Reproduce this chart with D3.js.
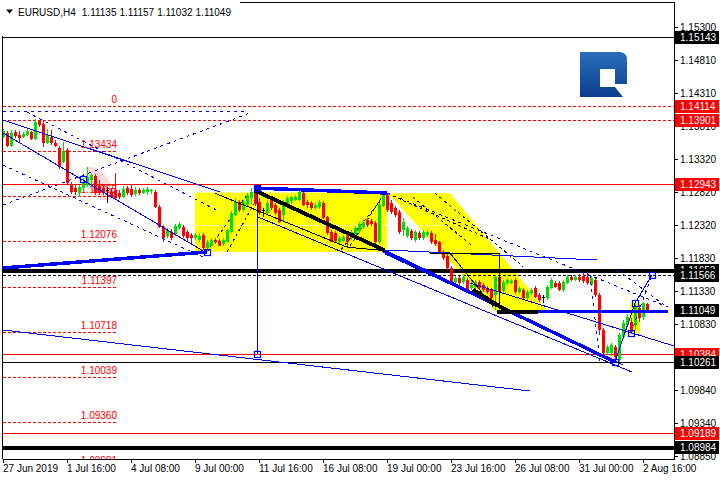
<!DOCTYPE html>
<html><head><meta charset="utf-8">
<script src="https://cdn.jsdelivr.net/npm/d3@7"></script>
<style>html,body{margin:0;padding:0;background:#fff;}svg{display:block;}text{font-family:"Liberation Sans",Arial,sans-serif;white-space:pre;}</style>
</head><body><svg id="c" width="720" height="480"></svg>
<script>
// ---------- DATA ----------
const symbol = "EURUSD,H4";
const open = [
1.1365,1.1371,1.1351,1.1372,1.1368,1.1365,1.1368,1.1372,1.1362,1.1389,
1.1384,1.1356,1.1365,1.1356,1.1348,1.1327,1.1345,1.1294,1.1288,1.1281,
1.1288,1.1293,1.1300,1.1306,1.1291,1.1288,1.1285,1.1282,1.1285,1.1281,
1.1275,1.1288,1.1287,1.1279,1.1285,1.1281,1.1282,1.1283,1.1282,1.1260,
1.1230,1.1216,1.1222,1.1219,1.1228,1.1230,1.1222,1.1218,1.1213,1.1210,
1.1218,1.1198,1.1201,1.1210,1.1209,1.1204,1.1207,1.1222,1.1248,1.1267,
1.1255,1.1263,1.1273,1.1282,1.1267,1.1255,1.1251,1.1270,1.1263,1.1255,
1.1248,1.1264,1.1268,1.1270,1.1270,1.1281,1.1267,1.1266,1.1258,1.1260,
1.1266,1.1245,1.1222,1.1221,1.1207,1.1209,1.1216,1.1213,1.1216,1.1224,
1.1230,1.1240,1.1239,1.1236,1.1206,1.1261,1.1278,1.1266,1.1258,1.1252,
1.1225,1.1216,1.1224,1.1210,1.1221,1.1213,1.1218,1.1221,1.1210,1.1206,
1.1192,1.1185,1.1168,1.1147,1.1153,1.1147,1.1150,1.1138,1.1139,1.1147,
1.1142,1.1138,1.1135,1.1127,1.1154,1.1133,1.1145,1.1145,1.1150,1.1132,
1.1135,1.1123,1.1130,1.1138,1.1127,1.1124,1.1123,1.1138,1.1145,1.1145,
1.1135,1.1145,1.1154,1.1150,1.1154,1.1156,1.1154,1.1142,1.1150,1.1127,
1.1075,1.1040,1.1040,1.1049,1.1030,1.1064,1.1082,1.1087,1.1082,1.1108,
1.1094,1.11135];
const high = [
1.1377,1.1374,1.1375,1.1375,1.1374,1.1372,1.1377,1.1374,1.1392,1.1390,
1.1390,1.1377,1.1375,1.1360,1.1351,1.1357,1.1348,1.1297,1.1293,1.1293,
1.1303,1.1320,1.1311,1.1309,1.1300,1.1293,1.1290,1.1288,1.1311,1.1285,
1.1291,1.1291,1.1293,1.1290,1.1288,1.1288,1.1289,1.1287,1.1285,1.1263,
1.1233,1.1228,1.1227,1.1234,1.1237,1.1233,1.1225,1.1221,1.1221,1.1221,
1.1221,1.1210,1.1213,1.1213,1.1212,1.1213,1.1227,1.1254,1.1273,1.1270,
1.1270,1.1281,1.1288,1.1288,1.1273,1.1258,1.1270,1.1275,1.1266,1.1258,
1.1270,1.1276,1.1276,1.1278,1.1285,1.1284,1.1270,1.1269,1.1266,1.1270,
1.1269,1.1246,1.1225,1.1224,1.1216,1.1218,1.1219,1.1225,1.1231,1.1237,
1.1240,1.1243,1.1242,1.1239,1.1266,1.1284,1.1281,1.1270,1.1261,1.1255,
1.1243,1.1231,1.1227,1.1225,1.1224,1.1225,1.1225,1.1224,1.1219,1.1209,
1.1195,1.1188,1.1171,1.1156,1.1156,1.1157,1.1153,1.1147,1.1150,1.1150,
1.1145,1.1141,1.1138,1.1157,1.1160,1.1150,1.1153,1.1151,1.1153,1.1141,
1.1138,1.1135,1.1138,1.1141,1.1130,1.1127,1.1142,1.1153,1.1148,1.1148,
1.1150,1.1157,1.1157,1.1157,1.1159,1.1162,1.1162,1.1156,1.1153,1.1130,
1.1078,1.1052,1.1055,1.1052,1.1070,1.1090,1.1099,1.1093,1.1117,1.1112,
1.1117,1.11157];
const low = [
1.1363,1.1350,1.1350,1.1363,1.1356,1.1363,1.1366,1.1360,1.1360,1.1380,
1.1350,1.1354,1.1353,1.1350,1.1316,1.1326,1.1293,1.1279,1.1278,1.1275,
1.1285,1.1290,1.1291,1.1278,1.1278,1.1278,1.1266,1.1273,1.1270,1.1272,
1.1273,1.1278,1.1275,1.1276,1.1278,1.1279,1.1278,1.1279,1.1258,1.1228,
1.1207,1.1213,1.1210,1.1216,1.1225,1.1213,1.1209,1.1204,1.1210,1.1207,
1.1194,1.1192,1.1200,1.1203,1.1200,1.1201,1.1206,1.1221,1.1246,1.1252,
1.1252,1.1260,1.1264,1.1261,1.1248,1.1245,1.1248,1.1255,1.1248,1.1236,
1.1237,1.1261,1.1264,1.1269,1.1269,1.1261,1.1258,1.1255,1.1255,1.1257,
1.1242,1.1218,1.1206,1.1206,1.1204,1.1206,1.1197,1.1210,1.1213,1.1221,
1.1227,1.1230,1.1231,1.1201,1.1203,1.1260,1.1252,1.1249,1.1245,1.1219,
1.1216,1.1213,1.1210,1.1207,1.1210,1.1210,1.1215,1.1204,1.1200,1.1191,
1.1180,1.1165,1.1145,1.1144,1.1141,1.1144,1.1130,1.1135,1.1136,1.1135,
1.1132,1.1129,1.1120,1.1105,1.1129,1.1130,1.1142,1.1144,1.1129,1.1129,
1.1121,1.1120,1.1127,1.1123,1.1117,1.1115,1.1120,1.1136,1.1138,1.1133,
1.1132,1.1144,1.1148,1.1148,1.1147,1.1145,1.1142,1.1141,1.1124,1.1067,
1.1037,1.1037,1.1036,1.1028,1.1027,1.1061,1.1079,1.1069,1.1075,1.1087,
1.1090,1.11032];
const close = [
1.1374,1.1351,1.1371,1.1366,1.1363,1.1369,1.1374,1.1362,1.1387,1.1383,
1.1356,1.1368,1.1356,1.1351,1.1320,1.1344,1.1296,1.1282,1.1282,1.1290,
1.1297,1.1305,1.1308,1.1281,1.1281,1.1281,1.1285,1.1275,1.1273,1.1275,
1.1287,1.1281,1.1278,1.1285,1.1281,1.1285,1.1286,1.1285,1.1260,1.1230,
1.1213,1.1225,1.1213,1.1231,1.1234,1.1216,1.1213,1.1213,1.1218,1.1216,
1.1197,1.1207,1.1210,1.1206,1.1201,1.1210,1.1225,1.1251,1.1267,1.1255,
1.1267,1.1278,1.1282,1.1264,1.1251,1.1255,1.1266,1.1258,1.1251,1.1237,
1.1267,1.1273,1.1274,1.1275,1.1282,1.1263,1.1263,1.1258,1.1263,1.1267,
1.1243,1.1221,1.1207,1.1209,1.1213,1.1215,1.1206,1.1222,1.1228,1.1234,
1.1237,1.1233,1.1234,1.1206,1.1263,1.1281,1.1255,1.1252,1.1248,1.1222,
1.1237,1.1228,1.1213,1.1222,1.1213,1.1222,1.1222,1.1207,1.1203,1.1192,
1.1183,1.1168,1.1147,1.1153,1.1145,1.1154,1.1135,1.1142,1.1147,1.1138,
1.1135,1.1132,1.1123,1.1154,1.1132,1.1147,1.1150,1.1148,1.1132,1.1138,
1.1123,1.1132,1.1135,1.1124,1.1120,1.1124,1.1139,1.1150,1.1139,1.1135,
1.1147,1.1154,1.1150,1.1154,1.1150,1.1148,1.1145,1.1153,1.1127,1.1075,
1.1040,1.1049,1.1052,1.1034,1.1067,1.1085,1.1094,1.1072,1.1109,1.1093,
1.1115,1.11049];

const priceTicks = [1.1530,1.1481,1.1431,1.1381,1.1332,1.1282,1.1232,1.1183,1.1133,1.1083,1.1034,1.0984,1.0934,1.0885];
const timeTickBars = [0,16,32,48,64,80,96,112,128,144,160];
const timeTickLabels = ["27 Jun 2019","1 Jul 16:00","4 Jul 08:00","9 Jul 00:00","11 Jul 16:00","16 Jul 08:00","19 Jul 00:00","23 Jul 16:00","26 Jul 08:00","31 Jul 00:00","2 Aug 16:00"];

const levelPrices = [1.15143,1.14114,1.13901,1.12943,1.11653,1.11566,1.10384,1.10261,1.09189,1.08984];
const fibLevels = [1.14113,1.13434,1.12755,1.12076,1.11397,1.10718,1.10039,1.09360,1.08681];
const fibLabels = ["0","1.13434","1.12755","1.12076","1.11397","1.10718","1.10039","1.09360","1.08681"];

// drawn objects: [bar, price] points
const yellowRect = [[48,1.1281],[96,1.1192]];
const yellowPoly = [[96.25,1.1280],[111.75,1.1280],[136.5,1.1100],[123.5,1.1100]];
const yellowSmall = [[156.75,1.1115],[159.25,1.1115],[159.25,1.1070],[156.75,1.1070]];
const pinkArea = [[20.5,1.1306],[21.25,1.1320],[23.25,1.1318],[25.25,1.1309],[26.75,1.1297],[27.5,1.1282],[27,1.1270],[24.25,1.1270],[21.75,1.1285]];
const blueThin = [[0,1.13902,54.25,1.12819],[0,1.13706,50.5,1.11917],[63.75,1.12443,157.25,1.10113],[0,1.10744,131.75,1.09827],
  [96,1.11947,148.5,1.11797],[116.75,1.11451,167.75,1.10504],[153,1.10263,158,1.1115],[95.5,1.1189,155,1.1022],[63.5,1.12879,63.5,1.10384],[158,1.1115,162.25,1.11571]];
const blueThick = [[0,1.11677,51,1.11917],[95,1.1194,153,1.10263],[63,1.12879,96,1.12804],[123.5,1.1102,166.25,1.1102]];
const blueDashed = [[0,1.12624,61.75,1.14007],[0,1.14037,60.5,1.14037],[6,1.1402,54.25,1.1252],[0,1.13225,50.5,1.11827],
  [96,1.12804,166.25,1.1109],[146.75,1.11571,149.25,1.10263],[157,1.1070,162.25,1.11571],[153.5,1.1165,166,1.1109]];
const blackThick = [[63,1.1284,95.5,1.1194],[117.5,1.1135,126,1.1103],[123.5,1.1101,133.75,1.1101]];
const blackThin = [[53,1.1280,86,1.1199],[86,1.1199,95,1.1194],[106.75,1.1190,124,1.1190],[124,1.1190,124,1.1110],[111.75,1.1190,122.5,1.1110]];
const blackDashed = [[51,1.1192,61.25,1.1280],[56,1.1192,64.25,1.1280],[84.5,1.1195,96,1.1281],[86.75,1.1201,94.5,1.1272],
  [96,1.1280,122,1.1210],[102.5,1.1274,117.5,1.1200],[108,1.1280,130,1.1170]];
const whiteDashed = [[48,1.1232,111,1.1232]];
const markers = [[20,1.13015],[51,1.11917],[63.5,1.12879],[63.5,1.10384],[153,1.10263],[157,1.1070],[158,1.1115],[162.25,1.11571]];

// ---------- CHART ----------
const svg = d3.select("#c");
const x = d3.scaleLinear().domain([0,161]).range([3,647]);
const y = d3.scaleLinear().domain([1.1530,1.0885]).range([27,456]);
const L=3, R=674, T=2, B=459;
const GREEN="#00e000", RED="#ff0000", BLUE="#0000ff";
const FS="10px";

svg.append("rect").attr("width",720).attr("height",480).attr("fill","#fff");
svg.append("defs").append("clipPath").attr("id","pc").append("rect").attr("x",L).attr("y",T).attr("width",R-L).attr("height",B-T);
const g = svg.append("g").attr("clip-path","url(#pc)");

const poly = pts => pts.map(p=>[x(p[0]),y(p[1])].join(",")).join(" ");
g.append("rect").attr("x",x(yellowRect[0][0])).attr("y",y(yellowRect[0][1]))
  .attr("width",x(yellowRect[1][0])-x(yellowRect[0][0])).attr("height",y(yellowRect[1][1])-y(yellowRect[0][1])).attr("fill","#ffff00");
g.append("polygon").attr("points",poly(yellowPoly)).attr("fill","#ffff00");
g.append("polygon").attr("points",poly(yellowSmall)).attr("fill","#ffff00");
g.append("polygon").attr("points",poly(pinkArea)).attr("fill","#fcdada");

function seg(arr, color, width, dash, cls){
  g.selectAll("line."+cls).data(arr).join("line").attr("class",cls)
   .attr("x1",d=>x(d[0])).attr("y1",d=>y(d[1])).attr("x2",d=>x(d[2])).attr("y2",d=>y(d[3]))
   .attr("stroke",color).attr("stroke-width",width).attr("stroke-dasharray",dash||null)
   .attr("shape-rendering","crispEdges");
}
seg(whiteDashed,"#fff",1,"4,3","wd");
seg(blackDashed,"#000",1,"3,3","kd");

// fib levels
fibLevels.forEach((v,i)=>{
  const yy = Math.round(y(v))+0.5;
  g.append("line").attr("x1",L).attr("x2",x(28.5)).attr("y1",yy).attr("y2",yy)
   .attr("stroke",RED).attr("stroke-dasharray","3,2").attr("shape-rendering","crispEdges");
  g.append("text").attr("x",x(28.5)).attr("y",yy-3.5).attr("text-anchor","end")
   .attr("font-size",FS).attr("fill",RED).text(fibLabels[i]);
});

// horizontal levels
const lvlStyle = [
 {c:"#000",w:1.5},{c:RED,w:1,d:"3,2"},{c:RED,w:1,d:"3,2"},{c:RED,w:1},{c:"#000",w:4},
 {c:"#000",w:1,d:"3,2"},{c:RED,w:1},{c:"#000",w:1},{c:RED,w:1},{c:"#000",w:4}];
levelPrices.forEach((v,i)=>{
  const s=lvlStyle[i]; const yy = Math.round(y(v))+0.5;
  g.append("line").attr("x1",L).attr("x2",R).attr("y1",yy).attr("y2",yy)
   .attr("stroke",s.c).attr("stroke-width",s.w).attr("stroke-dasharray",s.d||null).attr("shape-rendering","crispEdges");
});

// candles
const idx = d3.range(open.length);
const col = i => close[i]>open[i]?GREEN:(close[i]<open[i]?RED:"#000");
g.selectAll("line.wick").data(idx).join("line").attr("class","wick")
  .attr("x1",i=>x(i)+0.5).attr("x2",i=>x(i)+0.5).attr("y1",i=>y(high[i])).attr("y2",i=>y(low[i]))
  .attr("stroke",col).attr("shape-rendering","crispEdges");
g.selectAll("rect.body").data(idx).join("rect").attr("class","body")
  .attr("x",i=>x(i)-1).attr("width",3)
  .attr("y",i=>Math.round(y(Math.max(open[i],close[i]))))
  .attr("height",i=>Math.max(1,Math.round(y(Math.min(open[i],close[i])))-Math.round(y(Math.max(open[i],close[i])))))
  .attr("fill",col).attr("shape-rendering","crispEdges");

seg(blueThin,BLUE,1,null,"bt");
seg(blueDashed,BLUE,1,"3,4","bd");
seg(blueThick,BLUE,3.5,null,"bk");
seg(blackThin,"#000",1,null,"kt");
seg(blackThick,"#000",4,null,"kk");

g.selectAll("rect.mk").data(markers).join("rect").attr("class","mk")
  .attr("x",d=>Math.round(x(d[0]))-3+0.5).attr("y",d=>Math.round(y(d[1]))-3+0.5).attr("width",6).attr("height",6)
  .attr("fill","none").attr("stroke",BLUE).attr("stroke-width",1.2);

// frame
const fr = svg.append("g").attr("stroke","#000").attr("shape-rendering","crispEdges");
fr.append("line").attr("x1",L-0.5).attr("x2",L-0.5).attr("y1",T).attr("y2",B);
fr.append("line").attr("x1",L-0.5).attr("x2",R).attr("y1",T+0.5).attr("y2",T+0.5);
fr.append("line").attr("x1",R+0.5).attr("x2",R+0.5).attr("y1",T).attr("y2",B+0.5);
fr.append("line").attr("x1",L-0.5).attr("x2",R+0.5).attr("y1",B+0.5).attr("y2",B+0.5);

// price labels (tags)
const labelColors = ["#000",RED,RED,RED,"#000","#000",RED,"#000",RED,"#000"];
const tags = levelPrices.map((v,i)=>({v,c:labelColors[i]}));
tags.splice(6,0,{v:close[close.length-1],c:"#000"});

// price axis
const pa = svg.append("g");
priceTicks.forEach(v=>{
  const yy=Math.round(y(v))+0.5;
  pa.append("line").attr("x1",R).attr("x2",R+4).attr("y1",yy).attr("y2",yy).attr("stroke","#000").attr("shape-rendering","crispEdges");
  const hidden = tags.some(t=>Math.abs(y(t.v)-y(v))<5);
  if(!hidden) pa.append("text").attr("x",680).attr("y",yy).attr("dy","0.35em").attr("font-size",FS).attr("fill","#000").text(v.toFixed(5));
});
// time axis
timeTickBars.forEach((b,i)=>{
  const xx=Math.round(x(b))+0.5;
  pa.append("line").attr("x1",xx).attr("x2",xx).attr("y1",B).attr("y2",B+4).attr("stroke","#000").attr("shape-rendering","crispEdges");
  pa.append("text").attr("x",xx-0.5).attr("y",468).attr("dy","0.35em").attr("font-size",FS).attr("fill","#000").text(timeTickLabels[i]);
});

tags.forEach(t=>{
  const yy=Math.round(y(t.v));
  pa.append("rect").attr("x",675).attr("y",yy-6).attr("width",44).attr("height",13).attr("fill",t.c);
  pa.append("text").attr("x",680).attr("y",yy+0.5).attr("dy","0.35em").attr("font-size",FS).attr("fill","#fff").text(t.v.toFixed(5));
});

// title
svg.append("rect").attr("x",0).attr("y",0).attr("width",240).attr("height",Math.round(y(levelPrices[0]))-1).attr("fill","#fff");
svg.append("path").attr("d","M6,9.5 L13,9.5 L9.5,13.5 Z").attr("fill","#000");
const n=open.length-1;
const tt = svg.append("text").attr("x",18).attr("y",12).attr("dy","0.35em").attr("font-size",FS).attr("fill","#000");
tt.append("tspan").text(symbol);
[open[n],high[n],low[n],close[n]].forEach((v,k)=>tt.append("tspan").attr("dx",k===0?6:3).text(v.toFixed(5)));

// logo
const gr = svg.append("defs").append("linearGradient").attr("id","lg").attr("x1",0).attr("y1",0).attr("x2",0).attr("y2",1);
gr.append("stop").attr("offset","0").attr("stop-color","#2a6db8");
gr.append("stop").attr("offset","1").attr("stop-color","#0b3f8e");
svg.append("path").attr("d","M580,52 H619 Q627,52 627,60 V84 H615 V69 H600 V97 H580 Z M600,87 H615 L623,97 H600 Z").attr("fill","url(#lg)");
</script></body></html>
